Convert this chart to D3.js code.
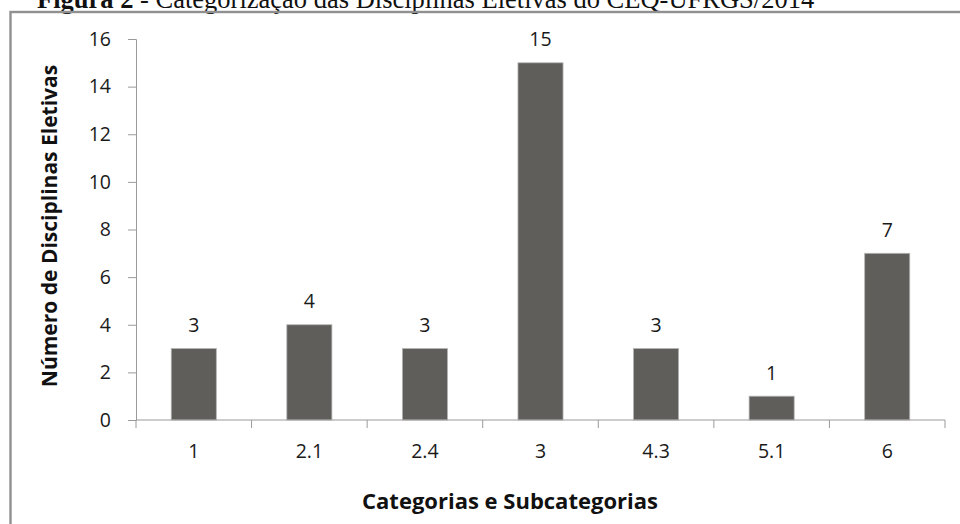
<!DOCTYPE html>
<html>
<head>
<meta charset="utf-8">
<script src="https://cdn.jsdelivr.net/npm/d3@7"></script>
<style>
  html, body { margin: 0; padding: 0; background: #fff; }
  svg { display: block; }
</style>
</head>
<body>
<svg id="chart" width="960" height="524"></svg>
<script>
// Elective courses per category / subcategory
const categories = ["1", "2.1", "2.4", "3", "4.3", "5.1", "6"];
const counts = [3, 4, 3, 15, 3, 1, 7];
const yTicks = [0, 2, 4, 6, 8, 10, 12, 14, 16];

const titleBold = "Figura 2";
const titleRest = " - Categorização das Disciplinas Eletivas do CEQ-UFRGS/2014";
const yTitle = "Número de Disciplinas Eletivas";
const xTitle = "Categorias e Subcategorias";

const svg = d3.select("#chart");
const sans = "'Open Sans', 'DejaVu Sans', sans-serif";
const labelSize = 19.5;

const plot = { left: 136, right: 945, top: 39, bottom: 420 };

const x = d3.scaleBand()
  .domain(categories)
  .range([plot.left, plot.right])
  .paddingInner(0.61)
  .paddingOuter(0.305);

const y = d3.scaleLinear()
  .domain([0, 16])
  .range([plot.bottom, plot.top]);

// Figure caption (runs off the top of the page)
const title = svg.append("text")
  .attr("x", 37)
  .attr("y", 7.5)
  .attr("font-family", "'Liberation Serif', 'Times New Roman', serif")
  .attr("font-size", 26.5)
  .attr("fill", "#111");
title.append("tspan").attr("font-weight", "bold").text(titleBold);
title.append("tspan").text(titleRest);

// Frame around the chart
svg.append("rect")
  .attr("x", 10.5)
  .attr("y", 12)
  .attr("width", 970)
  .attr("height", 530)
  .attr("fill", "none")
  .attr("stroke", "#909090")
  .attr("stroke-width", 2.4);

// Bars
svg.append("g")
  .selectAll("rect")
  .data(categories)
  .join("rect")
  .attr("x", (d) => x(d))
  .attr("y", (d, i) => y(counts[i]))
  .attr("width", x.bandwidth())
  .attr("height", (d, i) => y(0) - y(counts[i]))
  .attr("fill", "#605e5b")
  .attr("stroke", "#b4b4b4")
  .attr("stroke-width", 0.8);

// Value labels
svg.append("g")
  .selectAll("text")
  .data(categories)
  .join("text")
  .attr("x", (d) => x(d) + x.bandwidth() / 2)
  .attr("y", (d, i) => y(counts[i]) - 16.5)
  .attr("text-anchor", "middle")
  .attr("font-family", sans)
  .attr("font-size", labelSize)
  .attr("fill", "#1a1a1a")
  .text((d, i) => counts[i]);

// Y axis
const yAxis = svg.append("g")
  .attr("transform", `translate(${plot.left},0)`)
  .call(d3.axisLeft(y).tickValues(yTicks).tickSize(8).tickPadding(17).tickFormat(d3.format("d")));
yAxis.select(".domain").attr("stroke", "#9a9a9a");
yAxis.selectAll(".tick line").attr("stroke", "#9a9a9a");
yAxis.selectAll(".tick text")
  .attr("font-family", sans)
  .attr("font-size", labelSize)
  .attr("fill", "#1a1a1a");

// X axis: ticks sit on the band boundaries
const xAxis = svg.append("g")
  .attr("transform", `translate(0,${plot.bottom})`);
xAxis.append("line")
  .attr("x1", plot.left).attr("x2", plot.right)
  .attr("stroke", "#9a9a9a");
const boundaries = categories.map((d) => x(d) - x.step() * x.paddingInner() / 2)
  .concat([plot.right]);
xAxis.selectAll("line.tick")
  .data(boundaries)
  .join("line")
  .attr("class", "tick")
  .attr("x1", (d) => d).attr("x2", (d) => d)
  .attr("y1", 0).attr("y2", 8)
  .attr("stroke", "#9a9a9a");
xAxis.selectAll("text")
  .data(categories)
  .join("text")
  .attr("x", (d) => x(d) + x.bandwidth() / 2)
  .attr("y", 38)
  .attr("text-anchor", "middle")
  .attr("font-family", sans)
  .attr("font-size", labelSize)
  .attr("fill", "#1a1a1a")
  .text((d) => d);

// Axis titles
svg.append("text")
  .attr("transform", "translate(57,226) rotate(-90)")
  .attr("text-anchor", "middle")
  .attr("font-family", sans)
  .attr("font-weight", "bold")
  .attr("font-size", 21)
  .attr("fill", "#111")
  .text(yTitle);

svg.append("text")
  .attr("x", 510)
  .attr("y", 509)
  .attr("text-anchor", "middle")
  .attr("font-family", sans)
  .attr("font-weight", "bold")
  .attr("font-size", 22)
  .attr("fill", "#111")
  .text(xTitle);
</script>
</body>
</html>
